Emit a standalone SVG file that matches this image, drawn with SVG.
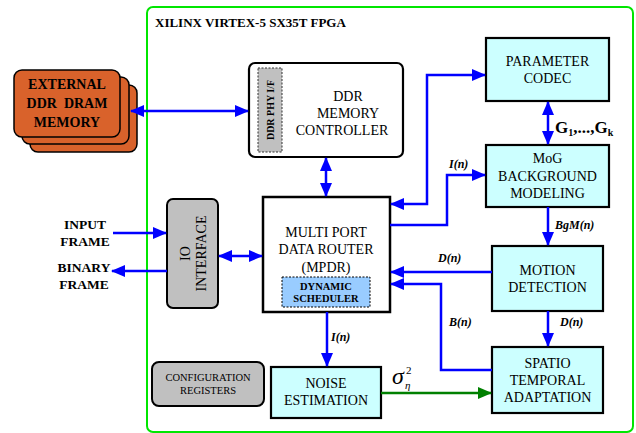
<svg xmlns="http://www.w3.org/2000/svg" width="636" height="433" viewBox="0 0 636 433">
<style>
  text { font-family: "Liberation Serif", "Times New Roman", serif; fill: #000; }
  .t14 { font-size: 14px; text-anchor: middle; }
  .b14 { font-size: 14px; font-weight: bold; text-anchor: middle; }
  .b13 { font-size: 13.5px; font-weight: bold; text-anchor: middle; }
  .small { font-size: 10.5px; text-anchor: middle; }
  .smallb { font-size: 10.5px; font-weight: bold; text-anchor: middle; }
  .lbl { font-size: 12px; font-weight: bold; font-style: italic; }
  .cyan { fill: #ccffff; stroke: #000; stroke-width: 2.2; }
  .wire { fill: none; stroke: #0000ff; stroke-width: 2.5; }
  .wire-g { fill: none; stroke: #008000; stroke-width: 2.5; }
</style>
<defs>
  <marker id="ah" markerUnits="userSpaceOnUse" markerWidth="14" markerHeight="12" refX="13" refY="6" orient="auto-start-reverse">
    <path d="M0,0 L14,6 L0,12 z" fill="#0000ff"/>
  </marker>
  <marker id="ahg" markerUnits="userSpaceOnUse" markerWidth="14" markerHeight="12" refX="13" refY="6" orient="auto">
    <path d="M0,0 L14,6 L0,12 z" fill="#008000"/>
  </marker>
</defs>

<rect width="636" height="433" fill="#fff"/>

<!-- FPGA boundary -->
<g id="fpga">
  <rect x="147" y="7" width="486" height="425" rx="6" fill="none" stroke="#00e600" stroke-width="2"/>
  <text x="155" y="27" style="font-size:13px;font-weight:bold">XILINX VIRTEX-5 SX35T FPGA</text>
</g>

<!-- external memory -->
<g id="ext-mem">
  <rect x="30" y="85" width="107" height="67" rx="8" fill="#d9622b" stroke="#000" stroke-width="1.5"/>
  <rect x="22" y="77" width="107" height="67" rx="8" fill="#d9622b" stroke="#000" stroke-width="1.5"/>
  <rect x="14" y="70" width="106" height="67" rx="8" fill="#d9622b" stroke="#000" stroke-width="1.5"/>
  <text class="b14" x="67" y="89">EXTERNAL</text>
  <text class="b14" x="67" y="108" xml:space="preserve">DDR  DRAM</text>
  <text class="b14" x="67" y="127">MEMORY</text>
</g>

<!-- DDR memory controller -->
<g id="ddr-ctrl">
  <rect x="249" y="63" width="154" height="94" rx="6" fill="#fff" stroke="#000" stroke-width="2.2"/>
  <rect x="258" y="68" width="24" height="84" fill="#c0c0c0" stroke="#333" stroke-width="1" stroke-dasharray="2,1.5"/>
  <text class="smallb" style="font-size:10px" transform="translate(273.5,110) rotate(-90)">DDR PHY I/F</text>
  <text class="t14" x="348" y="101">DDR</text>
  <text class="t14" x="348" y="118">MEMORY</text>
  <text class="t14" x="342" y="135">CONTROLLER</text>
</g>

<!-- multi port data router -->
<g id="mpdr">
  <rect x="263" y="197" width="127" height="115" fill="#fff" stroke="#000" stroke-width="2.5"/>
  <text class="t14" x="326" y="237">MULTI PORT</text>
  <text class="t14" x="326" y="254">DATA ROUTER</text>
  <text class="t14" x="326" y="272">(MPDR)</text>
  <rect x="282" y="277" width="88" height="30" fill="#99ccff" stroke="#000" stroke-width="1" stroke-dasharray="2,1.5"/>
  <text class="smallb" x="326" y="290">DYNAMIC</text>
  <text class="smallb" x="326" y="302">SCHEDULER</text>
</g>

<!-- IO interface -->
<g id="io">
  <rect x="167" y="199" width="51" height="109" rx="6" fill="#c0c0c0" stroke="#000" stroke-width="2"/>
  <text class="t14" transform="translate(190,253.5) rotate(-90)">IO</text>
  <text class="t14" transform="translate(206,253.5) rotate(-90)">INTERFACE</text>
</g>

<!-- configuration registers -->
<g id="config">
  <rect x="152" y="362" width="112" height="44" rx="7" fill="#c0c0c0" stroke="#000" stroke-width="2"/>
  <text class="small" x="208" y="381">CONFIGURATION</text>
  <text class="small" x="208" y="394">REGISTERS</text>
</g>

<!-- parameter codec -->
<g id="codec">
  <rect class="cyan" x="486" y="38" width="123" height="63"/>
  <text class="t14" x="547.5" y="66">PARAMETER</text>
  <text class="t14" x="547.5" y="83">CODEC</text>
</g>

<!-- MoG background modeling -->
<g id="mog">
  <rect class="cyan" x="486" y="145" width="123" height="62"/>
  <text class="t14" x="547.5" y="163">MoG</text>
  <text class="t14" x="547.5" y="181">BACKGROUND</text>
  <text class="t14" x="547.5" y="198">MODELING</text>
</g>

<!-- motion detection -->
<g id="motion">
  <rect class="cyan" x="492" y="246" width="111" height="65"/>
  <text class="t14" x="547.5" y="275">MOTION</text>
  <text class="t14" x="547.5" y="292">DETECTION</text>
</g>

<!-- spatio temporal adaptation -->
<g id="sta">
  <rect class="cyan" x="492" y="347" width="111" height="66"/>
  <text class="t14" x="547.5" y="368">SPATIO</text>
  <text class="t14" x="547.5" y="385">TEMPORAL</text>
  <text class="t14" x="547.5" y="402">ADAPTATION</text>
</g>

<!-- noise estimation -->
<g id="noise">
  <rect class="cyan" x="271" y="367" width="110" height="51"/>
  <text class="t14" x="326" y="388">NOISE</text>
  <text class="t14" x="326" y="405">ESTIMATION</text>
</g>

<!-- external frame labels -->
<g id="frames">
  <text class="b13" x="85" y="229">INPUT</text>
  <text class="b13" x="85" y="246">FRAME</text>
  <text class="b13" x="84" y="272">BINARY</text>
  <text class="b13" x="84" y="289">FRAME</text>
</g>

<!-- connectors -->
<g id="connectors">
  <path class="wire" d="M131,111 H248" marker-start="url(#ah)" marker-end="url(#ah)"/>
  <path class="wire" d="M326,158 V196" marker-start="url(#ah)" marker-end="url(#ah)"/>
  <path class="wire" d="M391,204 H427 V75 H485" marker-start="url(#ah)" marker-end="url(#ah)"/>
  <path class="wire" d="M390,225 H447 V175 H485" marker-end="url(#ah)"/>
  <path class="wire" d="M548,102 V144" marker-start="url(#ah)" marker-end="url(#ah)"/>
  <path class="wire" d="M548,207 V245" marker-end="url(#ah)"/>
  <path class="wire" d="M492,272 H391" marker-end="url(#ah)"/>
  <path class="wire" d="M492,370 H441 V284 H391" marker-end="url(#ah)"/>
  <path class="wire" d="M548,311 V346" marker-end="url(#ah)"/>
  <path class="wire" d="M327,312 V366" marker-end="url(#ah)"/>
  <path class="wire-g" d="M381,393 H491" marker-end="url(#ahg)"/>
  <path class="wire" d="M113,233 H166" marker-end="url(#ah)"/>
  <path class="wire" d="M167,271 H112" marker-end="url(#ah)"/>
  <path class="wire" d="M219,256 H262" marker-start="url(#ah)" marker-end="url(#ah)"/>

  <text class="lbl" x="449" y="168">I(n)</text>
  <text class="lbl" x="555" y="229">BgM(n)</text>
  <text class="lbl" x="438" y="262">D(n)</text>
  <text class="lbl" x="449" y="326">B(n)</text>
  <text class="lbl" x="560" y="326">D(n)</text>
  <text class="lbl" x="331" y="341">I(n)</text>
  <text x="555" y="133" style="font-size:17px;font-weight:bold">G<tspan dy="3" style="font-size:10px">1</tspan><tspan dy="-3">,...,G</tspan><tspan dy="3" style="font-size:10px">k</tspan></text>
  <text x="392" y="384" style="font-size:24px;font-style:italic">σ</text>
  <text x="406" y="374" style="font-size:11px">2</text>
  <text x="405" y="389" style="font-size:11px;font-style:italic">η</text>
</g>
</svg>
